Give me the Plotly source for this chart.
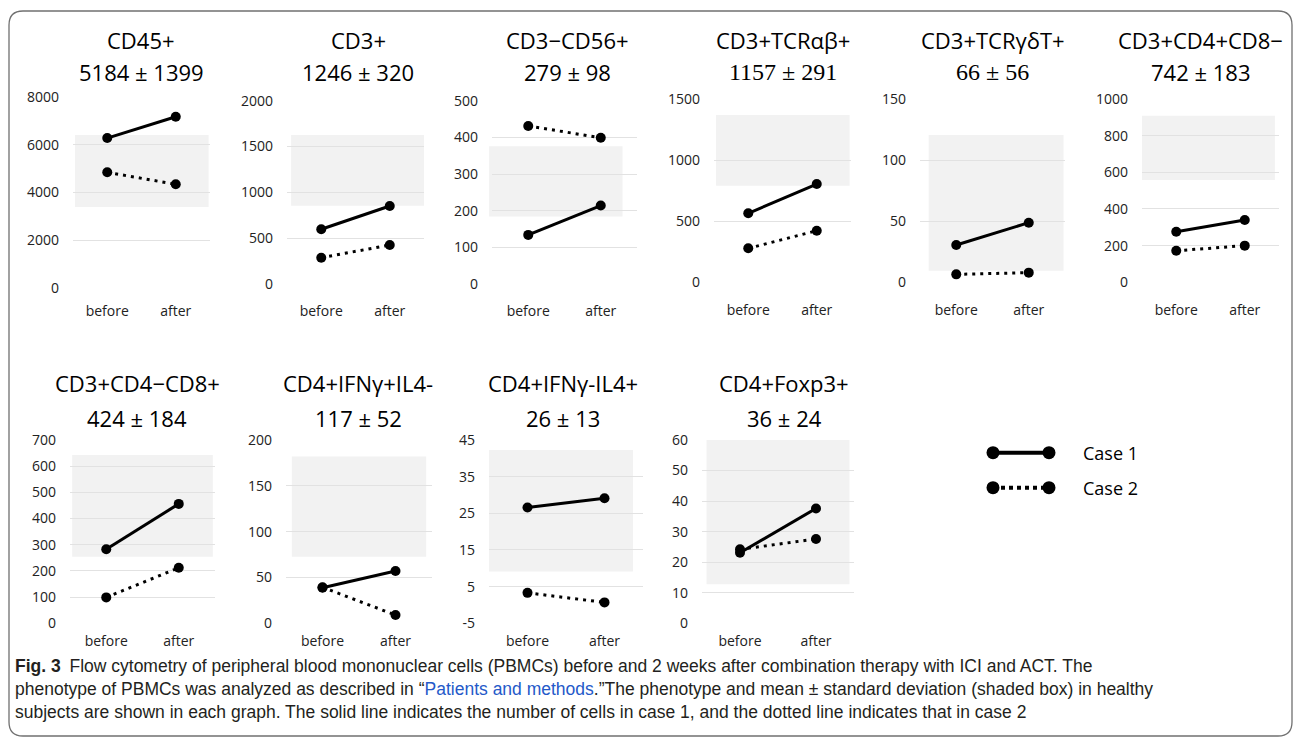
import plotly.graph_objects as go

W, H = 1295, 740

# ---------------- data ----------------
panels = ["CD45+", "CD3+", "CD3−CD56+", "CD3+TCRαβ+", "CD3+TCRγδT+", "CD3+CD4+CD8−",
          "CD3+CD4−CD8+", "CD4+IFNγ+IL4-", "CD4+IFNγ-IL4+", "CD4+Foxp3+"]
healthy_mean = [5184, 1246, 279, 1157, 66, 742, 424, 117, 26, 36]
healthy_sd = [1399, 320, 98, 291, 56, 183, 184, 52, 13, 24]
timepoints = ["before", "after"]
case1_before = [6280, 597, 134, 565, 30.5, 276, 283, 38.8, 26.6, 23.1]
case1_after = [7175, 851, 214, 804, 48.8, 340, 456, 57, 29.1, 37.6]
case2_before = [4845, 287, 431, 278, 6.5, 172, 99, 39.3, 3.3, 24.2]
case2_after = [4343, 425, 399, 422, 7.9, 200, 212, 9, 0.7, 27.6]
shade_low = [3390, 854, 184, 790, 9.5, 558, 254, 72.7, 9.1, 12.8]
shade_high = [6410, 1626, 376, 1369, 120.5, 909, 643, 182, 42.3, 60]
y_ticks = [
    [0, 2000, 4000, 6000, 8000],
    [0, 500, 1000, 1500, 2000],
    [0, 100, 200, 300, 400, 500],
    [0, 500, 1000, 1500],
    [0, 50, 100, 150],
    [0, 200, 400, 600, 800, 1000],
    [0, 100, 200, 300, 400, 500, 600, 700],
    [0, 50, 100, 150, 200],
    [-5, 5, 15, 25, 35, 45],
    [0, 10, 20, 30, 40, 50, 60],
]
legend_labels = ["Case 1", "Case 2"]

# ---------------- layout (pixel geometry) ----------------
plot_px = [
    (73, 210, 97, 288), (287, 424, 100.7, 284), (492, 637, 100.7, 284),
    (714, 851, 99, 282.3), (920, 1065, 99, 282.3), (1142, 1279, 99, 282.3),
    (70, 215, 440, 623.3), (286, 432, 440, 623.3), (489, 643, 440, 623.3),
    (702, 854, 440, 623.3),
]
shade_dom = [(0.015, 0.99), (0.03, 1.0), (-0.02, 0.90), (0.015, 0.99), (0.06, 0.99),
             (0.0, 0.97), (0.015, 0.985), (0.04, 0.96), (0.0, 0.935), (0.03, 0.97)]
title_x = [141, 358, 567, 783, 993, 1200, 137, 358, 563, 784]
title_y = [(40, 72)] * 6 + [(383, 418)] * 4
xlab_standoff = [13, 17, 17, 18, 18, 18, 8, 8, 8, 8]
serif_idx = {3, 4}

SANS = "Open Sans"
fig = go.Figure()
annotations = []
shapes = []


def px_x(x):
    return x / W


def px_y(y):
    return 1 - y / H


for i in range(len(panels)):
    k = "" if i == 0 else str(i + 1)
    xa, ya = "x" + k, "y" + k
    x0, x1, y0, y1 = plot_px[i]
    fig.add_trace(go.Scatter(
        x=[0, 1], y=[case1_before[i], case1_after[i]], mode="lines+markers",
        line=dict(color="black", width=3), marker=dict(color="black", size=10),
        xaxis=xa, yaxis=ya, showlegend=False, cliponaxis=False))
    fig.add_trace(go.Scatter(
        x=[0, 1], y=[case2_before[i], case2_after[i]], mode="lines+markers",
        line=dict(color="black", width=3, dash="3px,5px"),
        marker=dict(color="black", size=10),
        xaxis=xa, yaxis=ya, showlegend=False, cliponaxis=False))
    fig.layout["xaxis" + k] = dict(
        domain=[px_x(x0), px_x(x1)], range=[-0.5, 1.5], tickvals=[0, 1],
        ticktext=timepoints, showgrid=False, zeroline=False, showline=False,
        ticks="", anchor=ya, fixedrange=True, ticklabelstandoff=xlab_standoff[i],
        automargin=False, tickfont=dict(family=SANS, size=14, color="#222"))
    fig.layout["yaxis" + k] = dict(
        domain=[px_y(y1), px_y(y0)], range=[y_ticks[i][0], y_ticks[i][-1]],
        tickvals=y_ticks[i], ticktext=[str(v) for v in y_ticks[i]],
        showgrid=True, gridcolor="#e2e2e2", gridwidth=1, zeroline=False,
        showline=False, ticks="", anchor=xa, fixedrange=True, automargin=False,
        ticklabelstandoff=13, tickfont=dict(family=SANS, size=14, color="#222"))
    shapes.append(dict(
        type="rect", xref=xa + " domain", yref=ya,
        x0=shade_dom[i][0], x1=shade_dom[i][1], y0=shade_low[i], y1=shade_high[i],
        fillcolor="#f2f2f2", line=dict(width=0), layer="below"))
    fam = "Liberation Serif" if i in serif_idx else SANS
    sz = 24 if i in serif_idx else 22
    annotations.append(dict(
        text=panels[i], x=px_x(title_x[i]), y=px_y(title_y[i][0]), xref="paper",
        yref="paper", showarrow=False, xanchor="center", yanchor="middle",
        font=dict(family=SANS, size=22, color="black")))
    annotations.append(dict(
        text=f"{healthy_mean[i]} ± {healthy_sd[i]}", x=px_x(title_x[i]),
        y=px_y(title_y[i][1]), xref="paper", yref="paper", showarrow=False,
        xanchor="center", yanchor="middle",
        font=dict(family=fam, size=sz, color="black")))

# ---------------- legend (own small axes) ----------------
fig.add_trace(go.Scatter(
    x=[0, 1], y=[legend_labels[0], legend_labels[0]], mode="lines+markers",
    line=dict(color="black", width=4), marker=dict(color="black", size=13),
    xaxis="x11", yaxis="y11", showlegend=False, cliponaxis=False, hoverinfo="skip"))
fig.add_trace(go.Scatter(
    x=[0, 1], y=[legend_labels[1], legend_labels[1]], mode="lines+markers",
    line=dict(color="black", width=4, dash="4px,4px"), marker=dict(color="black", size=13),
    xaxis="x11", yaxis="y11", showlegend=False, cliponaxis=False, hoverinfo="skip"))
fig.layout["xaxis11"] = dict(domain=[px_x(993), px_x(1049)], range=[0, 1], visible=False,
                             anchor="y11", fixedrange=True)
fig.layout["yaxis11"] = dict(domain=[px_y(500), px_y(440)], range=[1.351, -0.363],
                             visible=False, anchor="x11", fixedrange=True,
                             type="category", categoryarray=legend_labels)
for lab in legend_labels:
    annotations.append(dict(
        text=lab, x=px_x(1081), y=lab, xref="paper", yref="y11", showarrow=False,
        xanchor="left", yanchor="middle", font=dict(family=SANS, size=18, color="black")))

# ---------------- caption ----------------
CAP = "Liberation Sans"
cap_lines = [
    "<b>Fig. 3</b>\u2002Flow cytometry of peripheral blood mononuclear cells (PBMCs) before and 2 weeks after combination therapy with ICI and ACT. The",
    "phenotype of PBMCs was analyzed as described in “<span style='color:#2459c9'>Patients and methods</span>.”The phenotype and mean ± standard deviation (shaded box) in healthy",
    "subjects are shown in each graph. The solid line indicates the number of cells in case 1, and the dotted line indicates that in case 2",
]
cap_y = [666, 689, 712]
for t, yy in zip(cap_lines, cap_y):
    annotations.append(dict(
        text=t, x=px_x(13), y=px_y(yy), xref="paper", yref="paper", showarrow=False,
        xanchor="left", yanchor="middle", font=dict(family=CAP, size=17.5, color="#231f20")))

# ---------------- rounded border ----------------
def rounded(x0, y0, x1, y1, r):
    rx, ry = r / W, r / H
    X0, X1, Y0, Y1 = px_x(x0), px_x(x1), px_y(y0), px_y(y1)
    return (f"M {X0+rx},{Y0} L {X1-rx},{Y0} Q {X1},{Y0} {X1},{Y0-ry} "
            f"L {X1},{Y1+ry} Q {X1},{Y1} {X1-rx},{Y1} L {X0+rx},{Y1} "
            f"Q {X0},{Y1} {X0},{Y1+ry} L {X0},{Y0-ry} Q {X0},{Y0} {X0+rx},{Y0} Z")


shapes.append(dict(type="path", xref="paper", yref="paper",
                   path=rounded(9, 11, 1292, 736, 14),
                   line=dict(color="#707070", width=1.3), layer="above"))

fig.update_layout(
    width=W, height=H, margin=dict(l=0, r=0, t=0, b=0, pad=0, autoexpand=False),
    paper_bgcolor="white", plot_bgcolor="rgba(0,0,0,0)",
    annotations=annotations, shapes=shapes, showlegend=False,
)

fig.write_html("out.html", config={"displayModeBar": False},
               post_script="document.body.style.margin='0';")
